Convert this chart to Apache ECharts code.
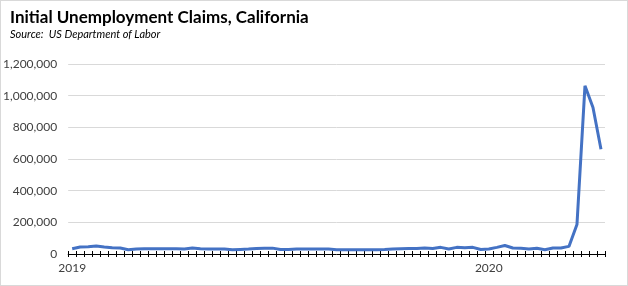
<!DOCTYPE html>
<html>
<head>
<meta charset="utf-8">
<script src="https://cdn.jsdelivr.net/npm/echarts@6/dist/echarts.min.js"></script>
<style>
html,body{margin:0;padding:0;background:#fff;}
#wrap{position:relative;width:628px;height:286px;}
#c{position:absolute;left:0;top:0;width:628px;height:286px;}
#b{position:absolute;left:0;top:0;width:628px;height:286px;box-sizing:border-box;border:1px solid #d9d9d9;pointer-events:none;}
</style>
</head>
<body>
<div id="wrap"><div id="c"></div><div id="b"></div></div>
<script>
// Weekly categories (week ending), Jan 2019 – Apr 2020
const weeks = [
 '2019-01-05','2019-01-12','2019-01-19','2019-01-26','2019-02-02','2019-02-09','2019-02-16','2019-02-23',
 '2019-03-02','2019-03-09','2019-03-16','2019-03-23','2019-03-30','2019-04-06','2019-04-13','2019-04-20',
 '2019-04-27','2019-05-04','2019-05-11','2019-05-18','2019-05-25','2019-06-01','2019-06-08','2019-06-15',
 '2019-06-22','2019-06-29','2019-07-06','2019-07-13','2019-07-20','2019-07-27','2019-08-03','2019-08-10',
 '2019-08-17','2019-08-24','2019-08-31','2019-09-07','2019-09-14','2019-09-21','2019-09-28','2019-10-05',
 '2019-10-12','2019-10-19','2019-10-26','2019-11-02','2019-11-09','2019-11-16','2019-11-23','2019-11-30',
 '2019-12-07','2019-12-14','2019-12-21','2019-12-28','2020-01-04','2020-01-11','2020-01-18','2020-01-25',
 '2020-02-01','2020-02-08','2020-02-15','2020-02-22','2020-02-29','2020-03-07','2020-03-14','2020-03-21',
 '2020-03-28','2020-04-04','2020-04-11'
];
const claims = [
 33000,44000,46000,50000,44000,39000,38000,27000,
 31000,33000,33000,33000,33000,33000,31000,38000,
 33000,32000,32000,32000,27000,29000,31000,34000,
 37000,37000,28000,28000,31000,32000,32000,32000,
 31000,27000,27000,27000,27000,27000,27000,28000,
 31000,33000,34000,34000,38000,35000,42000,32000,
 42000,40000,42000,28000,32000,42000,54000,38000,
 37000,32000,36000,27000,38000,38000,48000,186000,
 1062000,925000,661000
];
const yearLabelIdx = [0, 52];
const yTicks = [0, 200000, 400000, 600000, 800000, 1000000, 1200000];

const chart = echarts.init(document.getElementById('c'));
const fam = 'Lato, "Open Sans", sans-serif';
chart.setOption({
  animation: false,
  title: {
    text: 'Initial Unemployment Claims, California',
    subtext: 'Source:  US Department of Labor',
    left: 5, top: 4, itemGap: 3,
    textStyle: {fontFamily: fam, fontWeight: 'bold', fontSize: 17, color: '#000'},
    subtextStyle: {fontFamily: fam, fontStyle: 'italic', fontSize: 11, color: '#000'}
  },
  grid: {left: 68, right: 23, top: 64, bottom: 32},
  xAxis: [{
    type: 'category', data: weeks, boundaryGap: true,
    axisLine: {lineStyle: {color: '#000', width: 1}},
    axisTick: {show: true, interval: 0, length: 3, lineStyle: {color: '#000'}},
    axisLabel: {
      interval: (i) => yearLabelIdx.includes(i),
      formatter: (v) => v.slice(0, 4),
      color: '#404040', fontFamily: fam, fontSize: 12, margin: 8
    }
  }, {
    type: 'category', data: weeks, boundaryGap: true, position: 'bottom',
    axisLine: {show: false},
    axisTick: {show: true, inside: true, interval: 0, length: 3, lineStyle: {color: '#000'}},
    axisLabel: {show: false}
  }],
  yAxis: {
    type: 'value', min: 0, max: 1200000, interval: 200000,
    axisLine: {show: false}, axisTick: {show: false},
    splitLine: {lineStyle: {color: '#d9d9d9', width: 1}},
    axisLabel: {
      formatter: (v) => yTicks.includes(v) ? v.toLocaleString('en-US') : '',
      color: '#404040', fontFamily: fam, fontSize: 12, margin: 11
    }
  },
  series: [{
    type: 'line', data: claims, xAxisIndex: 0, showSymbol: false, symbol: 'none',
    lineStyle: {color: '#4472C4', width: 3}
  }]
});
</script>
</body>
</html>
